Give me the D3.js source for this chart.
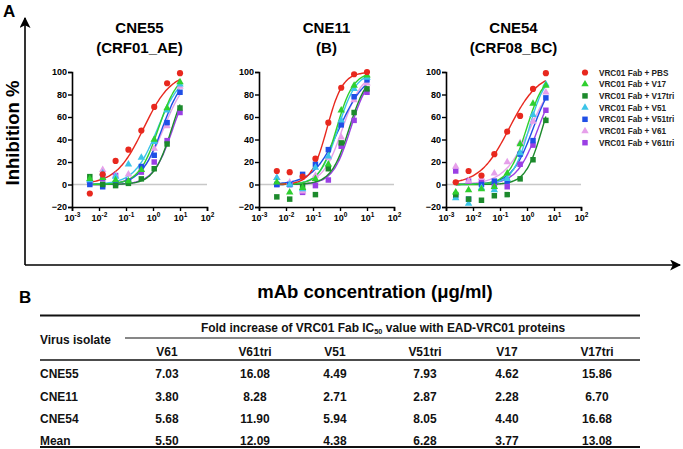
<!DOCTYPE html>
<html><head><meta charset="utf-8">
<script src="https://cdn.jsdelivr.net/npm/d3@7"></script>
<style>
html,body{margin:0;padding:0;background:#fff;}
svg{display:block;font-family:Arial,"Liberation Sans",Helvetica,sans-serif;}
</style></head>
<body>
<svg id="chart" width="683" height="449"></svg>
<script>
// ---------- DATA ----------
const seriesNames = ["VRC01 Fab + PBS","VRC01 Fab + V17","VRC01 Fab + V17tri","VRC01 Fab + V51","VRC01 Fab + V51tri","VRC01 Fab + V61","VRC01 Fab + V61tri"];
const seriesColors = ["#e8281e","#2fd02f","#1c8a2c","#3cc4e8","#1f4fe6","#e6a0ea","#9a3fe4"];
const seriesShapes = ["circle","triangle","square","triangle","square","triangle","square"];

const panelTitles = [["CNE55","(CRF01_AE)"],["CNE11","(B)"],["CNE54","(CRF08_BC)"]];

// concentrations (µg/ml)
const concCNE55 = [0.00457,0.0137,0.0412,0.123,0.370,1.11,3.33,10];
const concCNE11 = [0.00457,0.0137,0.0412,0.123,0.370,1.11,3.33,10];
const concCNE54 = [0.00229,0.00686,0.0206,0.0617,0.185,0.556,1.67,5];

// inhibition % per series (order as seriesNames)
const inhCNE55 = [
  [-8, 9, 21, 31, 48, 69, 90, 99],
  [5, 6, 4, 3, 13, 40, 68, 91],
  [7, 0, -1, 1, 5, 14, 36, 68],
  [4, 10, 7, 18, 24, 38, 66, 89],
  [0, -2, 1, 3, 16, 26, 55, 82],
  [3, 13, 8, 9, 13, 32, 52, 87],
  [2, 5, 8, 3, 11, 20, 39, 64]
];
const inhCNE11 = [
  [12, 11, 7, 23, 55, 86, 98, 100],
  [2, -7, -3, 5, 18, 66, 88, 97],
  [-11, -13, -2, -9, 14, 37, 64, 85],
  [6, 0, -4, 15, 25, 57, 85, 95],
  [0, 0, 9, 18, 31, 53, 78, 93],
  [6, 2, -6, 8, 24, 42, 75, 90],
  [0, 0, -7, -1, 4, 34, 57, 82]
];
const inhCNE54 = [
  [2, 12, 8, 27, 47, 61, 85, 99],
  [-7, -5, -4, -2, 10, 36, 72, 88],
  [-9, -13, -14, -10, -9, 5, 22, 57],
  [-12, -17, -3, -5, 5, 28, 62, 89],
  [-10, -13, 0, 3, 3, 27, 39, 77],
  [16, 3, 6, 10, 20, 37, 56, 82],
  [12, 3, 2, -2, -2, 18, 35, 66]
];

// fitted curve parameters (IC50 µg/ml, Hill slope)
const ic50CNE55 = [0.45, 1.6, 5.0, 1.5, 2.2, 2.5, 5.5];
const hillCNE55 = [0.85, 1.2, 1.3, 1.0, 1.1, 1.0, 1.2];
const ic50CNE11 = [0.33, 0.75, 2.2, 0.85, 0.95, 1.25, 2.5];
const hillCNE11 = [1.5, 1.4, 1.3, 1.3, 0.9, 1.2, 1.3];
const ic50CNE54 = [0.22, 0.97, 3.7, 1.2, 1.7, 1.3, 2.6];
const hillCNE54 = [0.8, 1.3, 1.4, 1.4, 1.1, 0.9, 1.1];

const xTicks = [1e-3,1e-2,1e-1,1e0,1e1,1e2];
const xTickExp = ["-3","-2","-1","0","1","2"];
const yTicks = [-20,0,20,40,60,80,100];

// table
const tableColumns = ["V61","V61tri","V51","V51tri","V17","V17tri"];
const tableRows = ["CNE55","CNE11","CNE54","Mean"];
const tableValues = [
  ["7.03","16.08","4.49","7.93","4.62","15.86"],
  ["3.80","8.28","2.71","2.87","2.28","6.70"],
  ["5.68","11.90","5.94","8.05","4.40","16.68"],
  ["5.50","12.09","4.38","6.28","3.77","13.08"]
];

// ---------- DRAW ----------
const svg = d3.select("#chart");
const panels = [
  {conc: concCNE55, inh: inhCNE55, ic50: ic50CNE55, hill: hillCNE55},
  {conc: concCNE11, inh: inhCNE11, ic50: ic50CNE11, hill: hillCNE11},
  {conc: concCNE54, inh: inhCNE54, ic50: ic50CNE54, hill: hillCNE54}
];
const panelX = [72, 259, 446];
const pW = 135, pTop = 72, pBot = 207;

// letters
svg.append("text").attr("x",3).attr("y",17).attr("font-size",17).attr("font-weight","bold").text("A");
svg.append("text").attr("x",19).attr("y",303).attr("font-size",17).attr("font-weight","bold").text("B");

// big arrows
svg.append("defs").append("marker").attr("id","arrow").attr("viewBox","0 0 10 10")
  .attr("refX",9).attr("refY",5).attr("markerWidth",11).attr("markerHeight",11).attr("markerUnits","userSpaceOnUse")
  .attr("orient","auto").append("path").attr("d","M0,0 L10,5 L0,10 L2.5,5 Z").attr("fill","#000");
svg.append("path").attr("d","M25,265 L25,18").attr("stroke","#000").attr("stroke-width",1.6).attr("fill","none").attr("marker-end","url(#arrow)");
svg.append("path").attr("d","M25,265 L680,265").attr("stroke","#000").attr("stroke-width",1.6).attr("fill","none").attr("marker-end","url(#arrow)");

svg.append("text").attr("transform","translate(19,133) rotate(-90)").attr("text-anchor","middle")
  .attr("font-size",18.5).attr("font-weight","bold").text("Inhibition %");
svg.append("text").attr("x",375).attr("y",298).attr("text-anchor","middle")
  .attr("font-size",18.5).attr("font-weight","bold").text("mAb concentration (μg/ml)");

function shapePath(shape){
  if(shape==="circle") return d3.symbol().type(d3.symbolCircle).size(30)();
  if(shape==="triangle") return d3.symbol().type(d3.symbolTriangle).size(24)();
  return d3.symbol().type(d3.symbolSquare).size(30)();
}

panels.forEach((p,pi)=>{
  const x0 = panelX[pi];
  const x = d3.scaleLog().domain([1e-3,1e2]).range([x0, x0+pW]);
  const y = d3.scaleLinear().domain([-20,100]).range([pBot, pTop]);
  const g = svg.append("g");

  const cx = x0 + pW/2;
  g.append("text").attr("x",cx).attr("y",33).attr("text-anchor","middle").attr("font-size",15).attr("font-weight","bold").text(panelTitles[pi][0]);
  g.append("text").attr("x",cx).attr("y",53).attr("text-anchor","middle").attr("font-size",15).attr("font-weight","bold").text(panelTitles[pi][1]);

  g.append("line").attr("x1",x0).attr("x2",x0+pW).attr("y1",y(0)).attr("y2",y(0))
    .attr("stroke","#c8c8c8").attr("stroke-width",1.6);

  const ya = g.append("g").attr("transform",`translate(${x0},0)`)
    .call(d3.axisLeft(y).tickValues(yTicks).tickSize(4).tickPadding(1));
  ya.select(".domain").attr("stroke-width",1.6);
  ya.selectAll(".tick line").attr("stroke-width",1.4);
  ya.selectAll("text").attr("font-size",9).attr("font-weight","bold").attr("font-family","Arial,'Liberation Sans',sans-serif").attr("fill","#000");

  const xa = g.append("g").attr("transform",`translate(0,${pBot})`)
    .call(d3.axisBottom(x).tickValues(xTicks).tickSize(4).tickFormat(()=>""));
  xa.select(".domain").attr("stroke-width",1.6);
  xa.selectAll(".tick line").attr("stroke-width",1.4);
  xa.selectAll(".tick").each(function(d,i){
    const t = d3.select(this).append("text").attr("y",14).attr("fill","#000")
      .attr("text-anchor","middle").attr("font-weight","bold").attr("font-family","Arial,'Liberation Sans',sans-serif");
    t.append("tspan").attr("font-size",9).text("10");
    t.append("tspan").attr("font-size",6.5).attr("dy",-4).text(xTickExp[i]);
  });

  for(let s=seriesNames.length-1; s>=0; s--){
    const c0 = d3.min(p.conc), c1 = d3.max(p.conc);
    const lc = d3.range(0,61).map(k=>Math.log10(c0) + (Math.log10(c1)-Math.log10(c0))*k/60);
    const pts = lc.map(l=>{const c=Math.pow(10,l); return [c, 100/(1+Math.pow(p.ic50[s]/c, p.hill[s]))];});
    g.append("path").datum(pts)
      .attr("d", d3.line().x(d=>x(d[0])).y(d=>y(d[1])).curve(d3.curveBasis))
      .attr("fill","none").attr("stroke",seriesColors[s]).attr("stroke-width",1.4);
  }
  for(let s=seriesNames.length-1; s>=0; s--){
    g.append("g").selectAll("path").data(p.conc.map((c,i)=>[c,p.inh[s][i]])).join("path")
      .attr("transform",d=>`translate(${x(d[0])},${y(d[1])})`)
      .attr("d",shapePath(seriesShapes[s])).attr("fill",seriesColors[s]);
  }
});

// legend
const lg = svg.append("g");
seriesNames.forEach((n,i)=>{
  const yy = 72.5 + i*11.7;
  lg.append("path").attr("transform",`translate(585,${yy})`).attr("d",shapePath(seriesShapes[i])).attr("fill",seriesColors[i]);
  lg.append("text").attr("x",599).attr("y",yy+3).attr("font-size",8.2).attr("font-weight","bold").attr("fill","#222").text(n);
});

// ---------- TABLE ----------
const tg = svg.append("g").attr("font-weight","bold").attr("fill","#111");
const SX = 0.92, FS = 13;
function ttext(x, y, anchor){
  return tg.append("text").attr("transform",`translate(${x},${y}) scale(${SX},1)`)
    .attr("text-anchor",anchor).attr("font-size",FS);
}
const colX = [167,255,335,425,507,597];
const tl = 40, tr = 640;
tg.append("line").attr("x1",tl).attr("x2",tr).attr("y1",315.5).attr("y2",315.5).attr("stroke","#111").attr("stroke-width",2);
tg.append("line").attr("x1",125).attr("x2",tr).attr("y1",338).attr("y2",338).attr("stroke","#111").attr("stroke-width",1.2);
tg.append("line").attr("x1",tl).attr("x2",tr).attr("y1",360).attr("y2",360).attr("stroke","#111").attr("stroke-width",1.6);
tg.append("line").attr("x1",tl).attr("x2",tr).attr("y1",447).attr("y2",447).attr("stroke","#111").attr("stroke-width",2);

const hdr = ttext(383,331.5,"middle");
hdr.append("tspan").text("Fold increase of VRC01 Fab IC");
hdr.append("tspan").attr("font-size",8).attr("dy",2).text("50");
hdr.append("tspan").attr("dy",-2).text(" value with EAD-VRC01 proteins");
ttext(tl,343.5,"start").text("Virus isolate");
tableColumns.forEach((c,i)=>{ ttext(colX[i],355.5,"middle").text(c); });
const rowY = [373.5,396,418,440];
tableRows.forEach((r,ri)=>{
  ttext(tl,rowY[ri]+4.5,"start").text(r);
  tableValues[ri].forEach((v,ci)=>{ ttext(colX[ci],rowY[ri]+4.5,"middle").text(v); });
});
</script>
</body></html>
